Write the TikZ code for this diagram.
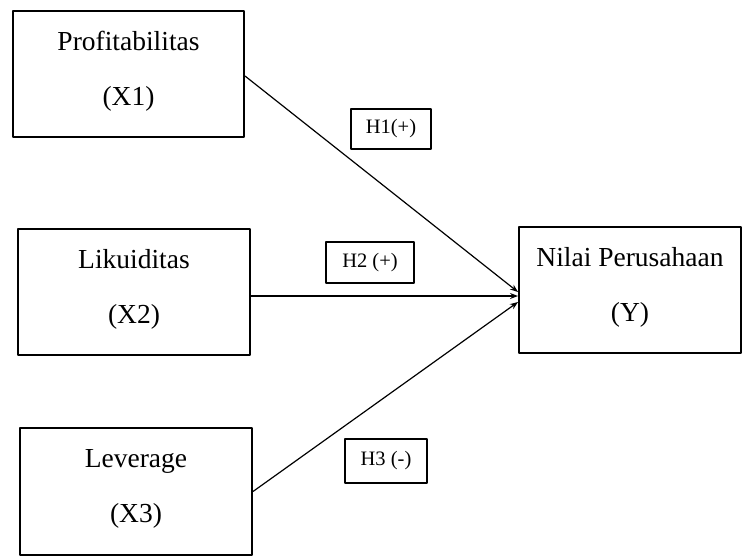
\documentclass[tikz,border=0pt]{standalone}
\usepackage{fontspec}
\setmainfont{Liberation Serif}
\usetikzlibrary{arrows.meta}
\begin{document}
\begin{tikzpicture}[>={Stealth[length=8pt,width=6pt]},line join=round,line cap=round,x=1pt,y=-1pt,
	kotak/.style={draw,line width=2pt,inner sep=0pt,align=center,font=\fontsize{27.5}{55}\selectfont,text depth=12pt},
	hipo/.style={draw,line width=2pt,inner sep=0pt,font=\fontsize{20.5}{24}\selectfont},
	panah/.style={->,line width=1.2pt}]
		
		\useasboundingbox (0,0) rectangle (743,557);
		% Variabel bebas dan terikat
		\node[kotak,minimum width=231,minimum height=126] (x1) at (128.5,74) {Profitabilitas\\(X1)};
		\node[kotak,minimum width=232,minimum height=126] (x2) at (134,292) {Likuiditas\\(X2)};
		\node[kotak,minimum width=232,minimum height=127] (x3) at (136,491.5) {Leverage\\(X3)};
		\node[kotak,minimum width=222,minimum height=126] (nilai) at (630,290) {Nilai Perusahaan\\(Y)};
		% Hipotesis
		\node[hipo,minimum width=80,minimum height=40] (h1) at (391,129) {H1(+)};
		\node[hipo,minimum width=88,minimum height=41] (h2) at (370,262.5) {H2 (+)};
		\node[hipo,minimum width=82,minimum height=44] (h3) at (386,461) {H3 (-)};
		% Panah
		\draw[panah] ([yshift=-2pt]x1.east) -- ([yshift=-2pt]nilai.west);
		\draw[panah] ([yshift=-4pt]x2.east) -- ([yshift=-6pt]nilai.west);
		\draw[panah] (x3.east) -- ([yshift=-12pt]nilai.west);
\end{tikzpicture}
\end{document}
